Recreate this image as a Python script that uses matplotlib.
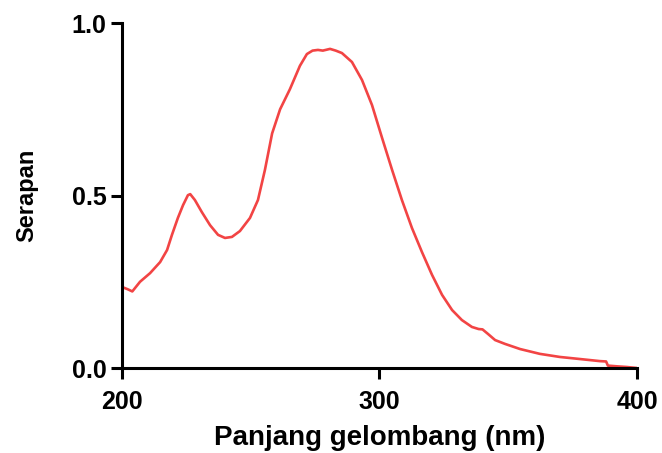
import matplotlib.pyplot as plt

plt.rcParams['font.family'] = ['Liberation Sans', 'DejaVu Sans']

# spektrum serapan
panjang = [200, 202.3, 204, 207, 210.9, 214.8, 217.5, 219.4, 221.7, 223.7, 225.6, 226.5,
           228.3, 231, 234.2, 237.3, 240, 242.7, 245.8, 249.7, 252.8, 255.5, 258.3,
           261.4, 265.2, 269.1, 271.8, 274, 276.1, 278, 280.8, 283, 285.4, 289.3, 293.2,
           297.1, 301, 304.9, 308.7, 312.6, 316.5, 320.4, 324.3, 328.2, 332, 335.9,
           338.5, 340, 342.1, 344.9, 348.7, 354.6, 362.3, 370.1, 377.9, 385.6, 388,
           388.7, 392, 396, 400]
serapan = [0.235, 0.228, 0.222, 0.25, 0.275, 0.307, 0.342, 0.386, 0.435, 0.472, 0.501, 0.504,
           0.487, 0.452, 0.414, 0.386, 0.377, 0.38, 0.397, 0.435, 0.487, 0.574, 0.68,
           0.75, 0.808, 0.876, 0.91, 0.92, 0.922, 0.92, 0.925, 0.92, 0.913, 0.887, 0.835,
           0.762, 0.667, 0.574, 0.487, 0.406, 0.336, 0.27, 0.212, 0.168, 0.139, 0.119,
           0.113, 0.112, 0.099, 0.081, 0.07, 0.055, 0.041, 0.032, 0.026, 0.020, 0.019,
           0.007, 0.005, 0.003, 0.0]

fig = plt.figure(figsize=(6.62, 4.53), dpi=100)
ax = fig.add_axes([0.1843, 0.1876, 0.7779, 0.7616])

ax.plot(panjang, serapan, color='#f24444', linewidth=1.9)

ax.set_xlim(200, 400)
ax.set_ylim(0, 1.0)
ax.set_xticks([200, 300, 400])
ax.set_yticks([0.0, 0.5, 1.0])
ax.set_yticklabels(['0.0', '0.5', '1.0'])

for s in ['top', 'right']:
    ax.spines[s].set_visible(False)
for s in ['left', 'bottom']:
    ax.spines[s].set_linewidth(2.2)

ax.tick_params(axis='both', length=8, width=2.2, labelsize=18)
ax.tick_params(axis='x', pad=8)
ax.tick_params(axis='y', pad=3)
for lab in ax.get_xticklabels() + ax.get_yticklabels():
    lab.set_fontweight('bold')

ax.set_xlabel("Panjang gelombang (nm)", fontsize=20, fontweight='bold', labelpad=8)
ax.set_ylabel("Serapan", fontsize=17, fontweight='bold', labelpad=24)

plt.savefig("out.png", dpi=100)
